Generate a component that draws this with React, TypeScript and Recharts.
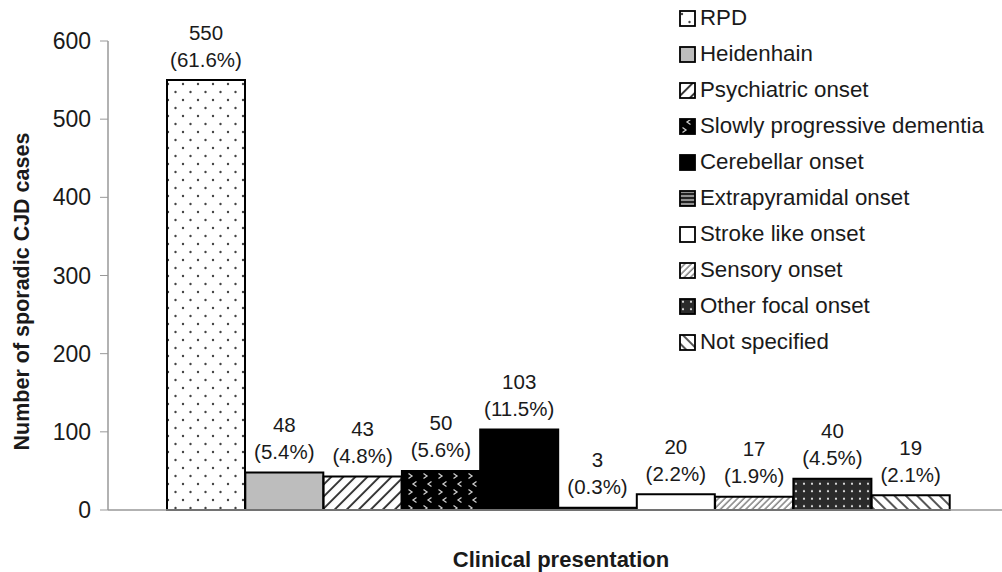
import { Bar, BarChart, Cell, LabelList, XAxis, YAxis } from 'recharts';

const FONT = '"Liberation Sans", Arial, sans-serif';
const INK = '#1a1a1a';

const categories = [
  'RPD',
  'Heidenhain',
  'Psychiatric onset',
  'Slowly progressive dementia',
  'Cerebellar onset',
  'Extrapyramidal onset',
  'Stroke like onset',
  'Sensory onset',
  'Other focal onset',
  'Not specified',
];
const counts = [550, 48, 43, 50, 103, 3, 20, 17, 40, 19];
const percents = [61.6, 5.4, 4.8, 5.6, 11.5, 0.3, 2.2, 1.9, 4.5, 2.1];
const yTicks = [0, 100, 200, 300, 400, 500, 600];

// fill per category: plain colour or one of the hatch patterns below
const fills = [
  'url(#pat-dots)',
  '#bdbdbd',
  'url(#pat-diag)',
  'url(#pat-chevron)',
  '#000',
  'url(#pat-hstripe)',
  '#fff',
  'url(#pat-fine)',
  'url(#pat-darkdots)',
  'url(#pat-back)',
];

const data = categories.map((name, i) => ({ name, count: counts[i], pct: percents[i] }));

function Patterns() {
  return (
    <defs>
      <pattern id="pat-dots" patternUnits="userSpaceOnUse" width={15} height={16}>
        <rect width={15} height={16} fill="#fff" />
        <circle cx={3} cy={4} r={1.2} fill="#444" />
        <circle cx={10.5} cy={12} r={1.2} fill="#444" />
      </pattern>
      <pattern id="pat-diag" patternUnits="userSpaceOnUse" width={8.5} height={8.5} patternTransform="rotate(45)">
        <rect width={8.5} height={8.5} fill="#fff" />
        <line x1={2} y1={0} x2={2} y2={8.5} stroke="#222" strokeWidth={1.8} />
      </pattern>
      <pattern id="pat-fine" patternUnits="userSpaceOnUse" width={4.5} height={4.5} patternTransform="rotate(45)">
        <rect width={4.5} height={4.5} fill="#fff" />
        <line x1={1} y1={0} x2={1} y2={4.5} stroke="#555" strokeWidth={1.1} />
      </pattern>
      <pattern id="pat-back" patternUnits="userSpaceOnUse" width={8} height={8} patternTransform="rotate(-45)">
        <rect width={8} height={8} fill="#fff" />
        <line x1={2} y1={0} x2={2} y2={8} stroke="#444" strokeWidth={1.8} />
      </pattern>
      <pattern id="pat-chevron" patternUnits="userSpaceOnUse" width={15} height={16}>
        <rect width={15} height={16} fill="#000" />
        <path d="M11.5 1.5 L8 4 L11.5 6.5" fill="none" stroke="#ccc" strokeWidth={1.3} />
        <path d="M3.5 9.5 L7 12 L3.5 14.5" fill="none" stroke="#ccc" strokeWidth={1.3} />
      </pattern>
      <pattern id="pat-darkdots" patternUnits="userSpaceOnUse" width={8} height={7.5}>
        <rect width={8} height={7.5} fill="#2b2b2b" />
        <circle cx={4} cy={3.7} r={1.1} fill="#e0e0e0" />
      </pattern>
      <pattern id="pat-hstripe" patternUnits="userSpaceOnUse" width={4} height={4}>
        <rect width={4} height={4} fill="#222" />
        <line x1={0} y1={2} x2={4} y2={2} stroke="#fff" strokeWidth={1} />
      </pattern>
    </defs>
  );
}

function BarTopLabel(props: any) {
  const { x, y, width, index } = props;
  const cx = Number(x) + Number(width) / 2;
  const top = Number(y);
  return (
    <g fontFamily={FONT} fontSize={20.5} fill={INK} textAnchor="middle">
      <text x={cx} y={top - 48} dominantBaseline="central">
        {counts[index]}
      </text>
      <text x={cx} y={top - 21} dominantBaseline="central">
        ({percents[index].toFixed(1)}%)
      </text>
    </g>
  );
}

function YTitle(props: any) {
  const vb = props.viewBox;
  const x = 22;
  const y = vb.y + vb.height / 2 + 16;
  return (
    <text
      x={x}
      y={y}
      transform={`rotate(-90 ${x} ${y})`}
      textAnchor="middle"
      dominantBaseline="central"
      fontFamily={FONT}
      fontWeight="bold"
      fontSize={21.5}
      fill={INK}
    >
      Number of sporadic CJD cases
    </text>
  );
}

export default function App() {
  return (
    <div style={{ position: 'absolute', left: 0, top: 0, width: 1002, height: 572, background: '#fff' }}>
      <BarChart
        width={1002}
        height={572}
        data={data}
        margin={{ top: 41, right: 0, bottom: 0, left: 0 }}
        barCategoryGap={0}
      >
        <Patterns />
        <XAxis
          dataKey="name"
          tick={false}
          tickLine={false}
          axisLine={{ stroke: '#999', strokeWidth: 1.5 }}
          padding={{ left: 59, right: 52 }}
          height={62}
          label={{
            value: 'Clinical presentation',
            position: 'insideBottom',
            offset: 5,
            dx: 6,
            style: { fontFamily: FONT, fontWeight: 'bold', fontSize: 22, fill: INK },
          }}
        />
        <YAxis
          width={108}
          domain={[0, 600]}
          ticks={yTicks}
          interval={0}
          axisLine={{ stroke: '#999', strokeWidth: 1.5 }}
          tickLine={{ stroke: '#999' }}
          tickSize={8}
          tickMargin={9}
          tick={{ fill: INK, fontSize: 23, fontFamily: FONT }}
          label={{ content: <YTitle /> }}
        />
        <Bar dataKey="count" stroke="#000" strokeWidth={2} isAnimationActive={false}>
          {data.map((d, i) => (
            <Cell key={d.name} fill={fills[i]} stroke="#000" strokeWidth={2} />
          ))}
          <LabelList dataKey="count" content={<BarTopLabel />} />
        </Bar>
      </BarChart>
      <div
        style={{
          position: 'absolute',
          left: 679,
          top: 0,
          fontFamily: FONT,
          fontSize: 22.3,
          color: INK,
        }}
      >
        {categories.map((c, i) => (
          <div key={c} style={{ height: 36, display: 'flex', alignItems: 'center', whiteSpace: 'nowrap' }}>
            <svg width={17} height={17} style={{ display: 'block' }}>
              <rect x={1} y={1} width={15} height={15} fill={fills[i]} stroke="#000" strokeWidth={1.8} />
            </svg>
            <span style={{ marginLeft: 4 }}>{c}</span>
          </div>
        ))}
      </div>
    </div>
  );
}
